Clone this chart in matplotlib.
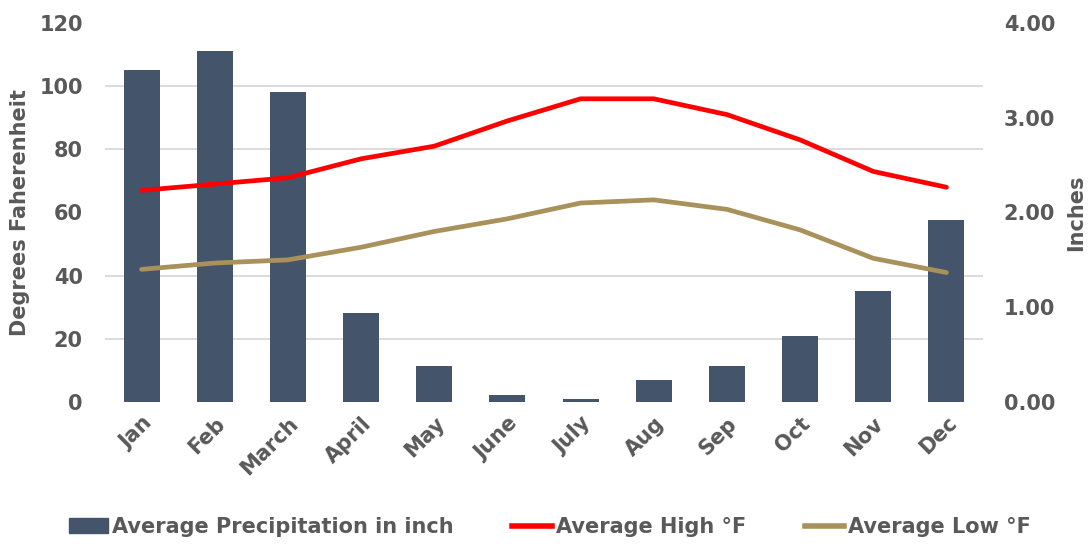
import numpy as np
import matplotlib.pyplot as plt
from matplotlib.patches import Patch
from matplotlib.lines import Line2D

# Datos mensuales
months = ["Jan", "Feb", "March", "April", "May", "June",
          "July", "Aug", "Sep", "Oct", "Nov", "Dec"]
precip_in = [3.50, 3.70, 3.27, 0.94, 0.38, 0.07, 0.03, 0.235, 0.385, 0.70, 1.17, 1.92]
avg_high = [67, 69, 71, 77, 81, 89, 96, 96, 91, 83, 73, 68]
avg_low = [42, 44, 45, 49, 54, 58, 63, 64, 61, 54.5, 45.5, 41]
temp_ticks = list(range(0, 121, 20))
inch_ticks = [0, 1, 2, 3, 4]

gray = "#595959"
plt.rcParams['font.family'] = ['DejaVu Sans']
plt.rcParams['font.weight'] = 'bold'
plt.rcParams['axes.labelweight'] = 'bold'

fig = plt.figure(figsize=(10.89, 5.46), dpi=100)
ax = fig.add_axes([105/1089, 1 - 402/546, (983-105)/1089, (402-23)/546])
ax2 = ax.twinx()

x = np.arange(len(months))

# Barras de precipitacion en el eje derecho
ax2.bar(x, precip_in, width=0.49, color="#44546A", zorder=2)
ax2.set_ylim(0, 4)
ax2.set_yticks(inch_ticks)
ax2.set_yticklabels([f"{v:.2f}" for v in inch_ticks], fontweight='bold')
# rejilla alineada con los ticks de temperatura, detras de las barras
ax2.set_yticks([t * 4 / 120 for t in temp_ticks], minor=True)
ax2.yaxis.grid(True, which='minor', color="#D9D9D9", linewidth=1.3, zorder=0)
ax2.yaxis.grid(False, which='major')
ax2.set_axisbelow(True)

# Temperaturas en el eje izquierdo, encima de las barras
ax.set_zorder(ax2.get_zorder() + 1)
ax.patch.set_visible(False)
ax.plot(x, avg_high, color="#FF0000", linewidth=3.4, solid_capstyle='round')
ax.plot(x, avg_low, color="#A8915A", linewidth=3.4, solid_capstyle='round')
ax.set_ylim(0, 120)
ax.set_yticks(temp_ticks)
ax.set_yticklabels([str(v) for v in temp_ticks], fontweight='bold')
ax.set_xlim(-0.5, 11.5)
ax.set_xticks(x)
ax.set_xticklabels(months, rotation=45, ha='right', rotation_mode='anchor',
                   fontweight='bold')

for a in (ax, ax2):
    for s in a.spines.values():
        s.set_visible(False)
    a.tick_params(which='both', length=0, labelsize=15, labelcolor=gray)
ax.tick_params(axis='y', pad=16)
ax2.tick_params(axis='y', pad=15)
ax.tick_params(axis='x', pad=8)

ax.set_ylabel("Degrees Faherenheit", fontsize=15, color=gray, fontweight='bold')
ax.yaxis.set_label_coords(-75/878, 0.5)
ax2.set_ylabel("Inches", fontsize=15, color=gray, fontweight='bold',
               rotation=90, va='bottom', ha='center')
ax2.yaxis.set_label_coords(1 + 103/878, 0.5)

handles = [Patch(color="#44546A"),
           Line2D([], [], color="#FF0000", linewidth=4),
           Line2D([], [], color="#A8915A", linewidth=4)]
labels = ["Average Precipitation in inch", "Average High °F", "Average Low °F"]
fig.legend(handles, labels, loc='center', bbox_to_anchor=(0.505, 0.035), ncol=3,
           frameon=False, labelcolor=gray, handlelength=1.9,
           handletextpad=0.2, columnspacing=2.8,
           prop={'size': 15, 'weight': 'bold'})

fig.savefig("out.png", dpi=100)
